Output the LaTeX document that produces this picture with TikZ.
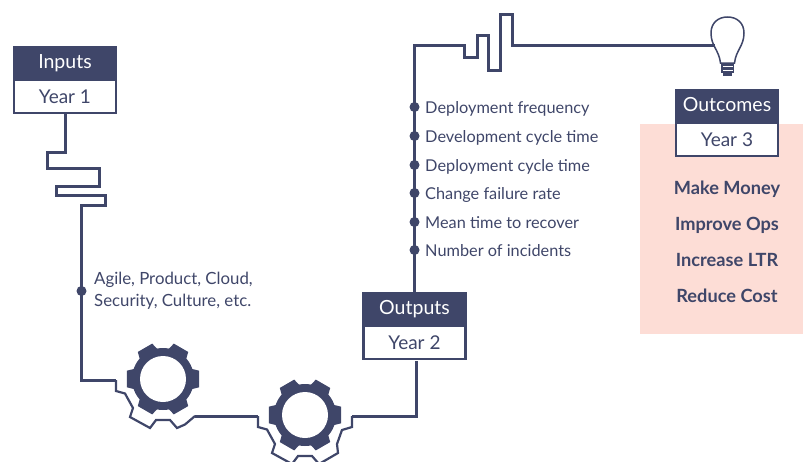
\documentclass[tikz,border=0pt]{standalone}
\usepackage{fontspec}
\setmainfont{Lato}
\usetikzlibrary{positioning}
\definecolor{darknavy}{HTML}{3F4669}
\definecolor{palepink}{HTML}{FDDDD6}
\tikzset{
	headbox/.style={draw=darknavy, fill=darknavy, line width=2.5pt, text=white, minimum width=102pt, minimum height=33pt, inner sep=0pt, outer sep=0pt, text height=13pt, text depth=4pt, font=\fontsize{19.5}{19.5}\selectfont},
	yearbox/.style={draw=darknavy, fill=white, line width=2.5pt, text=darknavy, minimum width=102pt, minimum height=33pt, inner sep=0pt, outer sep=0pt, text height=16pt, text depth=2pt, font=\fontsize{19}{19}\selectfont},
	wire/.style={draw=darknavy, line width=3pt, line join=miter},
	thinwire/.style={draw=darknavy, line width=2.2pt, line join=miter},
	dotnode/.style={circle, fill=darknavy, minimum size=10pt, inner sep=0pt},
	metric/.style={text=darknavy, anchor=base west, inner sep=0pt, font=\fontsize{16.3}{16.3}\selectfont},
	goal/.style={text=darknavy, inner sep=0pt, text height=13pt, text depth=4pt, font=\bfseries\fontsize{18.2}{18.2}\selectfont}
}
\begin{document}
\begin{tikzpicture}[x=1pt, y=-1pt]
	\useasboundingbox (0,0) rectangle (803,461);
	\clip (0,0) rectangle (803,461);
	\fill [palepink] (640,124) rectangle (803,334);

	% boxes
	\node [headbox] (inputshead) at (65,63.5) {Inputs};
	\node [yearbox, below=0pt of inputshead] (inputsyear) {Year 1};
	\node [headbox] (outputshead) at (414.5,309.5) {Outputs};
	\node [yearbox, below=0pt of outputshead] (outputsyear) {Year 2};
	\node [headbox] (outcomeshead) at (727,106.5) {Outcomes};
	\node [yearbox, below=0pt of outcomeshead] (outcomesyear) {Year 3};

	% dots on the lines
	\node [dotnode] (agiledot) at (81.5,291) {};
	\foreach \dotname/\ypos/\words in {a/107/Deployment frequency, b/136/Development cycle time, c/165/Deployment cycle time, d/193/Change failure rate, e/222/Mean time to recover, f/250/Number of incidents}
		\node [dotnode] (metric\dotname) at (414.5,\ypos) {} node [metric] at ([shift={(10.5,6)}]metric\dotname.center) {\words};
	\node [text=darknavy, align=left, inner sep=0pt, anchor=west, font=\fontsize{16.8}{22}\selectfont] (agiletext) at (94,291) {Agile, Product, Cloud,\\Security, Culture, etc.};

	% bulb
	\coordinate (bulbin) at (715,45);
	\draw [darknavy, line width=1.5pt, fill=white] (720.5,63) .. controls (719,50) and (711,46) .. (711,33) .. controls (711,23) and (718,17) .. (727.5,17) .. controls (737,17) and (744,23) .. (744,33) .. controls (744,46) and (736,50) .. (734.5,63) -- cycle;
	\fill [darknavy] (721,63) rectangle (734,73);
	\fill [darknavy] (723,73) rectangle (732,75.5);
	\fill [white] (722.5,66) rectangle (732.5,67);
	\fill [white] (722.5,69.5) rectangle (732.5,70.5);

	% lines
	\draw [wire] (inputsyear.south) -- (65,152) -- (47,152) -- (47,168) -- (99,168) -- (99,186) -- (56,186) -- (56,195) -- (105,195) -- (105,205) -- (81.5,205) -- (agiledot.center);
	\draw [wire] (agiledot.center) -- (81.5,380) -- (116,380);
	\draw [thinwire] (116,380) -- (116,391) -- (125,393.5) -- (133,408) -- (130,417) -- (150,428) -- (156,420) -- (170,420) -- (177,428) -- (185,424.5) -- (195,416);
	\draw [wire] (195,416) -- (258,416);
	\draw [thinwire] (258,416) -- (258,427) -- (267,429.5) -- (275,444) -- (272,453) -- (292,464) -- (298,456) -- (312,456) -- (319,464) -- (338,453) -- (337,444) -- (342,430) -- (352,427) -- (352,416);
	\draw [wire] (352,416) -- (416,416) -- (416,361);
	\draw [wire] (outputshead.north) -- (metricf.center) -- (metrica.center) -- (414.5,45) -- (464,45) -- (464,57) -- (477,57) -- (477,35) -- (488,35) -- (488,70) -- (500,70) -- (500,14) -- (512,14) -- (512,45) -- (bulbin);

	% gears
	\foreach \gearx/\geary in {163/379, 305/415} {
		\fill [darknavy] (\gearx,\geary) circle (31);
		\foreach \toothangle in {0,60,...,300}
			\fill [darknavy] ([shift={(\gearx,\geary)}]\toothangle-20:30) -- ([shift={(\gearx,\geary)}]\toothangle-13:37) -- ([shift={(\gearx,\geary)}]\toothangle+13:37) -- ([shift={(\gearx,\geary)}]\toothangle+20:30) -- cycle;
		\fill [white] (\gearx,\geary) circle (23);
	}

	% goals
	\node [goal] (money) at (727,190) {Make Money};
	\node [goal] (ops) at (727,226) {Improve Ops};
	\node [goal] (ltr) at (727,262) {Increase LTR};
	\node [goal] (cost) at (727,298) {Reduce Cost};
\end{tikzpicture}
\end{document}
